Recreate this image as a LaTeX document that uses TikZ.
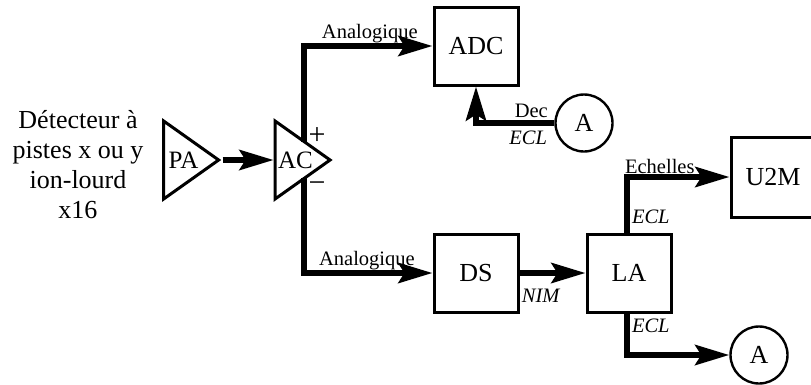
\documentclass[tikz,border=0pt]{standalone}
\usepackage{fontspec}
\setmainfont{Liberation Serif}
\usetikzlibrary{positioning, arrows.meta, shapes.geometric}

\begin{document}
\begin{tikzpicture}[
    x=1pt, y=-1pt,
    % Blocs carres, amplis triangulaires et cercles de sortie
    bloc/.style={
        rectangle,
        draw=black,
        line width=3pt,
        minimum height=78pt,
        minimum width=84pt,
        inner sep=0pt,
        font=\fontsize{26}{30}\selectfont
    },
    ampli/.style={
        isosceles triangle,
        isosceles triangle stretches,
        shape border rotate=0,
        draw=black,
        line width=3pt,
        minimum height=55pt,
        minimum width=78pt,
        inner sep=0pt,
        font=\fontsize{25}{30}\selectfont
    },
    sortie/.style={
        circle,
        draw=black,
        line width=2.4pt,
        minimum size=57pt,
        inner sep=0pt,
        font=\fontsize{26}{30}\selectfont
    },
    arr/.style={-{Stealth[length=34pt, width=20pt, inset=6pt]}, line width=6pt, draw=black},
    etiq/.style={font=\fontsize{20.5}{24}\selectfont, inner sep=0pt},
    tech/.style={font=\fontsize{20.5}{24}\selectfont\itshape, inner sep=2pt}
]
    \useasboundingbox (0,0) rectangle (811,384);

    % --- ENTREE ---
    \node[align=center, font=\fontsize{26}{30}\selectfont] (det) at (78,165) {Détecteur à\\pistes x ou y\\ion-lourd\\x16};
    \node[ampli] (pa) at (183.5,160) {PA};
    \node[ampli, right=51pt of pa] (ac) {AC};

    % --- BLOCS ---
    \node[bloc] (ds) at (476,273) {DS};
    \node[bloc, above=146pt of ds] (adc) {ADC};
    \node[bloc, right=66pt of ds] (la) {LA};
    \node[bloc, minimum height=80pt] (u2m) at (773,177) {U2M};
    \node[sortie] (a1) at (584,123) {A};
    \node[sortie] (a2) at (759,355) {A};

    % --- SIGNES DE L'AMPLI ---
    \node[font=\fontsize{30}{30}\selectfont, inner sep=0pt] (plus) at (317,136) {+};
    \node[font=\fontsize{30}{30}\selectfont, inner sep=0pt] (moins) at (317,187) {\textminus};
    \coordinate (acplus) at (304,142);
    \coordinate (acmoins) at (304,178);

    % --- CONNEXIONS ---
    \draw[arr] (pa.east) -- (ac.west);
    \draw[arr] (acplus) |- node[pos=0.756, above, etiq] {Analogique} (adc.west);
    \draw[arr] (acmoins) |- node[pos=0.745, above, etiq] {Analogique} (ds.west);
    \draw[arr] (a1.west) -| node[pos=0.147, above, etiq, yshift=2pt] {Dec} node[pos=0.167, below, tech, yshift=-3pt] {ECL} (adc.south);
    \draw[arr] (ds.east) -- node[pos=0.32, below, tech, yshift=-11pt] {NIM} (la.west);
    \draw[arr] ([xshift=-2pt]la.north) |- node[pos=0.143, right, tech] {ECL} node[pos=0.66, above, etiq] {Echelles} (u2m.west);
    \draw[arr] ([xshift=-2pt]la.south) |- node[pos=0.15, right, tech] {ECL} (a2.west);

\end{tikzpicture}
\end{document}
